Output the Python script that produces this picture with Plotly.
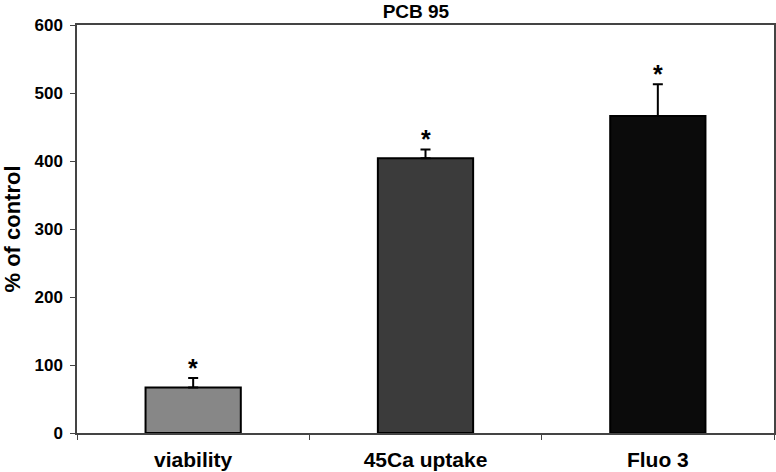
import plotly.graph_objects as go

categories = ["viability", "45Ca uptake", "Fluo 3"]
values = [67, 404, 466]
errors_up = [14, 13, 47]
bar_colors = ["#878787", "#3b3b3b", "#0b0b0b"]
y_ticks = [0, 100, 200, 300, 400, 500, 600]

font = "Liberation Sans, Arial, sans-serif"

fig = go.Figure()
fig.add_trace(go.Bar(
    x=categories, y=values, width=0.41,
    marker=dict(color=bar_colors, line=dict(color="black", width=2)),
    error_y=dict(type="data", symmetric=False, array=errors_up,
                 arrayminus=[0, 0, 0], color="black", thickness=2, width=5),
))

for c, v, e in zip(categories, values, errors_up):
    fig.add_annotation(x=c, y=v + e, text="<b>*</b>", showarrow=False,
                       yanchor="bottom", yshift=-6,
                       font=dict(family=font, size=25, color="black"))

fig.update_layout(
    width=776, height=472,
    margin=dict(l=77, r=2, t=25, b=39),
    paper_bgcolor="white", plot_bgcolor="white",
    showlegend=False,
    title=dict(text="<b>PCB 95</b>", x=0.536, xanchor="center", y=0.975, yanchor="middle",
               font=dict(family=font, size=19, color="black")),
    font=dict(family=font, color="black"),
)
fig.update_xaxes(
    type="category", tickson="boundaries", ticks="outside", ticklen=5,
    tickcolor="#444", showline=True, linecolor="#444", linewidth=1.5,
    mirror=True, showgrid=False, automargin=False, ticklabelstandoff=7,
    tickfont=dict(family=font, size=21, color="black"),
    ticktext=["<b>%s</b>" % c for c in categories], tickvals=categories,
)
fig.update_yaxes(
    range=[0, 600], tickvals=y_ticks,
    ticktext=["<b>%d</b>" % t for t in y_ticks],
    ticks="outside", ticklen=5, tickcolor="#444",
    showline=True, linecolor="#444", linewidth=1.5, mirror=True,
    showgrid=False, zeroline=False, automargin=False, ticklabelstandoff=4,
    tickfont=dict(family=font, size=17, color="black"),
    title=dict(text="<b>% of control</b>", standoff=8,
               font=dict(family=font, size=22, color="black")),
)

fig.write_html("out.html", config={"displayModeBar": False},
               post_script="document.body.style.margin='0';")
